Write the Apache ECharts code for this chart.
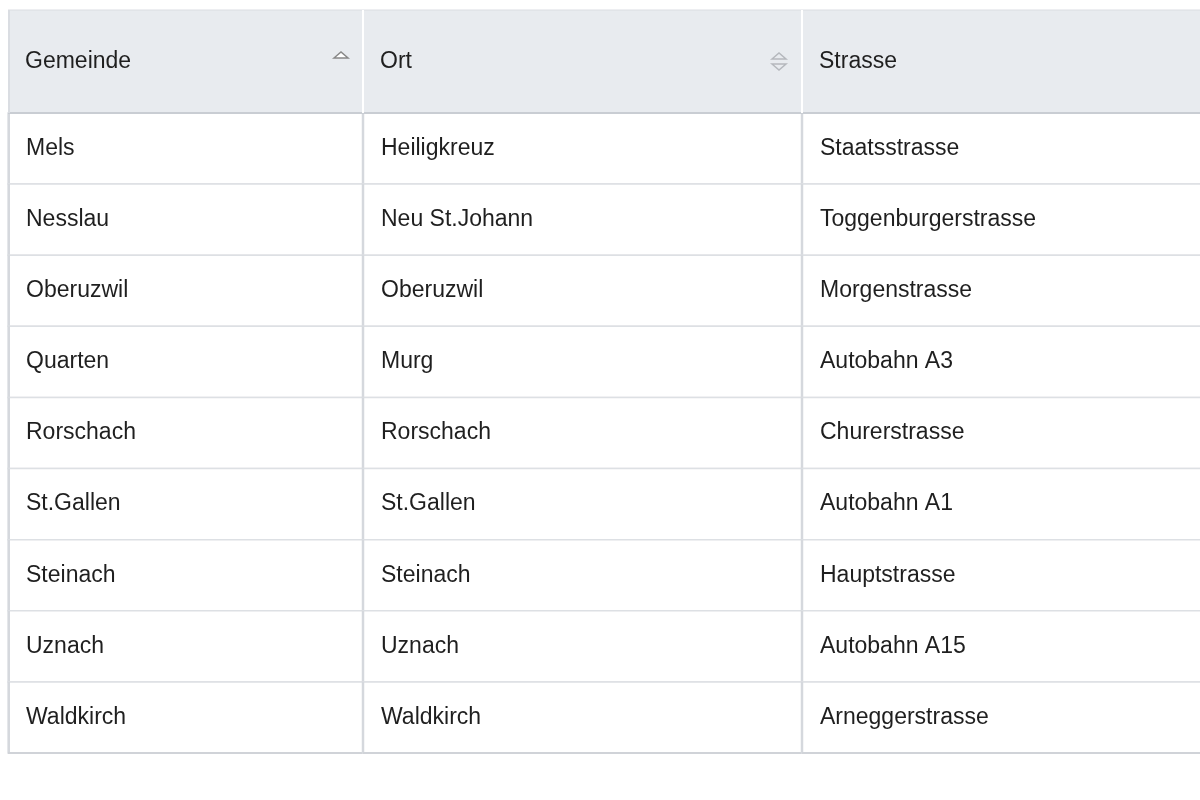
<!DOCTYPE html>
<html><head><meta charset="utf-8">
<script src="https://cdn.jsdelivr.net/npm/echarts@6/dist/echarts.min.js"></script>
<style>html,body{margin:0;padding:0;background:#fff}#c{width:1200px;height:800px}</style>
</head><body><div id="c"></div>
<script>
const headers = ['Gemeinde', 'Ort', 'Strasse'];
const gemeinde = ['Mels','Nesslau','Oberuzwil','Quarten','Rorschach','St.Gallen','Steinach','Uznach','Waldkirch'];
const ort = ['Heiligkreuz','Neu St.Johann','Oberuzwil','Murg','Rorschach','St.Gallen','Steinach','Uznach','Waldkirch'];
const strasse = ['Staatsstrasse','Toggenburgerstrasse','Morgenstrasse','Autobahn A3','Churerstrasse','Autobahn A1','Hauptstrasse','Autobahn A15','Arneggerstrasse'];
const columns = [gemeinde, ort, strasse];

const colStart = [0, 355, 794, 1200];
const FONT = '"Liberation Sans", Arial, sans-serif';
const data = [];
columns.forEach((col, c) => col.forEach((v, r) => data.push([c, r, v])));
headers.forEach((h, c) => data.push([c, -1, h]));

const chart = echarts.init(document.getElementById('c'));
chart.setOption({
  animation: false,
  grid: { left: 8, top: 113, right: 0, height: 640 },
  xAxis: { type: 'value', min: 0, max: 1192, show: false },
  yAxis: { type: 'value', min: 0, max: 9, inverse: true, show: false },
  series: [{
    type: 'custom',
    data: data,
    clip: false,
    renderItem: function (params, api) {
      const c = api.value(0), r = api.value(1), txt = api.value(2);
      const x0 = api.coord([colStart[c], 0])[0];
      const x1 = api.coord([colStart[c + 1], 0])[0];
      const children = [];
      if (r < 0) {
        const y0 = 10, y1 = 113;
        children.push({ type: 'rect', shape: { x: x0, y: y0, width: x1 - x0, height: y1 - y0 }, style: { fill: '#e8ebef' } });
        children.push({ type: 'line', shape: { x1: x0, y1: y0, x2: x1, y2: y0 }, style: { stroke: '#dadde2', lineWidth: 1 } });
        children.push({ type: 'line', shape: { x1: x0, y1: y1, x2: x1, y2: y1 }, style: { stroke: '#c9cdd3', lineWidth: 2 } });
        if (c > 0) children.push({ type: 'line', shape: { x1: x0, y1: y0, x2: x0, y2: y1 }, style: { stroke: '#ffffff', lineWidth: 2 } });
        else children.push({ type: 'line', shape: { x1: x0 + 1, y1: y0, x2: x0 + 1, y2: y1 }, style: { stroke: '#dadde2', lineWidth: 2 } });
        children.push({ type: 'text', style: { x: x0 + 17, y: (y0 + y1) / 2, text: txt, fill: '#1f1f1f', font: '23px ' + FONT, verticalAlign: 'middle' } });
        if (c === 0) {
          children.push({ type: 'polygon', shape: { points: [[x1 - 29, 58], [x1 - 22, 52], [x1 - 15, 58]] }, style: { fill: '#ffffff', stroke: '#888', lineWidth: 1.5 } });
        } else if (c === 1) {
          children.push({ type: 'polygon', shape: { points: [[x1 - 30, 59], [x1 - 23, 53], [x1 - 16, 59]] }, style: { fill: 'none', stroke: '#b5b8bd', lineWidth: 1.5 } });
          children.push({ type: 'polygon', shape: { points: [[x1 - 30, 64], [x1 - 23, 70], [x1 - 16, 64]] }, style: { fill: 'none', stroke: '#b5b8bd', lineWidth: 1.5 } });
        }
      } else {
        const y0 = api.coord([0, r])[1], y1 = api.coord([0, r + 1])[1];
        children.push({ type: 'rect', shape: { x: x0, y: y0, width: x1 - x0, height: y1 - y0 }, style: { fill: '#ffffff', stroke: '#dde0e4', lineWidth: 1.5 } });
        if (c === 0) children.push({ type: 'line', shape: { x1: x0 + 1, y1: y0, x2: x0 + 1, y2: y1 }, style: { stroke: '#d5d8dd', lineWidth: 2 } });
        else children.push({ type: 'line', shape: { x1: x0, y1: y0, x2: x0, y2: y1 }, style: { stroke: '#d5d8dd', lineWidth: 2.5 } });
        if (r === 8) children.push({ type: 'line', shape: { x1: x0, y1: y1, x2: x1, y2: y1 }, style: { stroke: '#d0d3d8', lineWidth: 2 } });
        children.push({ type: 'text', style: { x: x0 + 18, y: (y0 + y1) / 2, text: txt, fill: '#1f1f1f', font: '23px ' + FONT, verticalAlign: 'middle' } });
      }
      return { type: 'group', children: children };
    }
  }]
});
</script></body></html>
